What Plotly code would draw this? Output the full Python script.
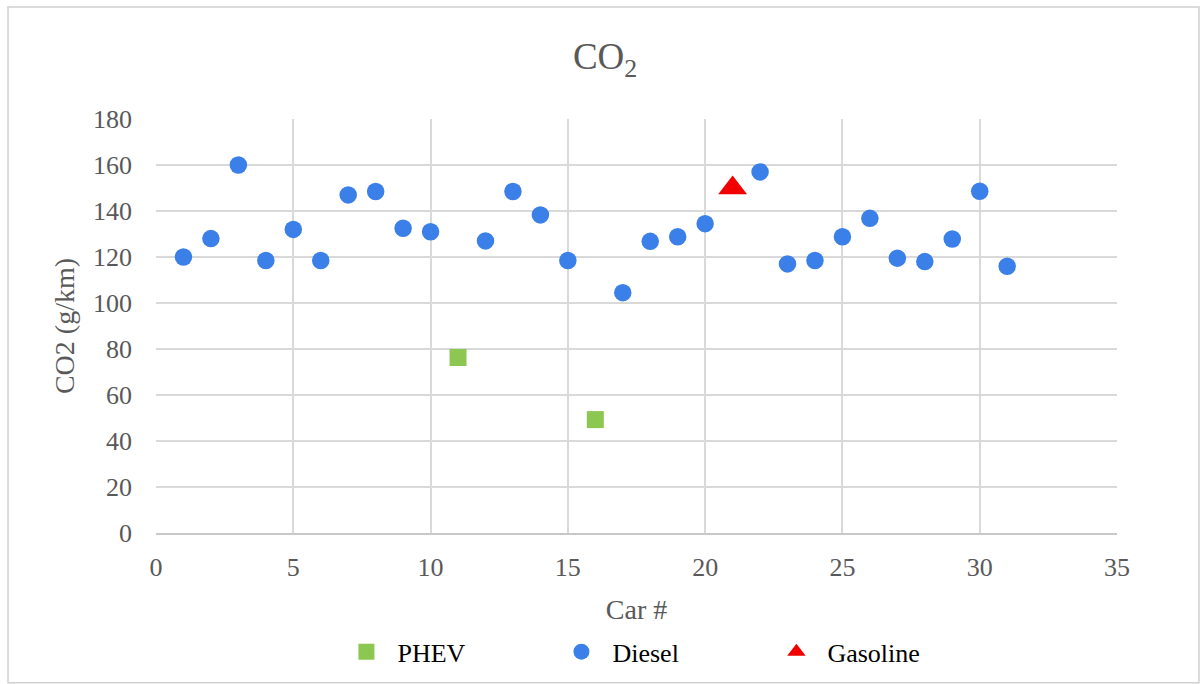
import plotly.graph_objects as go

# Data
diesel_car = [1, 2, 3, 4, 5, 6, 7, 8, 9, 10, 12, 13, 14, 15, 17, 18, 19, 20,
              22, 23, 24, 25, 26, 27, 28, 29, 30, 31]
diesel_co2 = [120, 128, 160, 118.5, 132, 118.5, 147, 148.5, 132.5, 131, 127, 148.5, 138.3, 118.5,
              104.5, 126.8, 128.8, 134.5, 157, 117, 118.5, 128.8, 136.8, 119.5, 118, 127.8, 148.6, 116]
phev_car = [11, 16]
phev_co2 = [76.3, 49.3]
gas_car = [21]
gas_co2 = [150]

FONT = "Liberation Serif"
GRAY = "#595959"

fig = go.Figure()
fig.add_trace(go.Scatter(x=phev_car, y=phev_co2, mode="markers", name="PHEV",
                         marker=dict(symbol="square", size=17, color="#8cc751")))
fig.add_trace(go.Scatter(x=diesel_car, y=diesel_co2, mode="markers", name="Diesel",
                         marker=dict(symbol="circle", size=17.5, color="#3b7fe8")))
fig.add_trace(go.Scatter(x=gas_car, y=gas_co2, mode="markers", name="Gasoline",
                         marker=dict(symbol="triangle-up", size=25, color="#f20000")))

fig.update_layout(
    width=1203, height=684,
    paper_bgcolor="white", plot_bgcolor="white",
    margin=dict(l=156, r=86, t=119, b=151, autoexpand=False),
    title=dict(text="CO<sub>2</sub>", x=0.503, xanchor="center", y=0.918, yanchor="middle",
               font=dict(family=FONT, size=37, color=GRAY)),
    font=dict(family=FONT, color=GRAY),
    showlegend=True,
    legend=dict(orientation="h", x=0.5223, xanchor="center", y=-0.287, yanchor="middle",
                font=dict(family=FONT, size=26, color="#000000"),
                itemwidth=52,
                entrywidth=148, entrywidthmode="pixels", bgcolor="rgba(0,0,0,0)"),
    shapes=[dict(type="rect", xref="paper", yref="paper", x0=-0.154, x1=1.0853,
                 y0=-0.362, y1=1.2705, line=dict(color="#d0d0d0", width=1.5), layer="below")],
)
fig.update_xaxes(range=[0, 35], dtick=5, tick0=0, showgrid=True, gridcolor="#d9d9d9", gridwidth=1.5,
                 zeroline=False, showline=True, linecolor="#c8c8c8", linewidth=1.5, mirror=False,
                 ticks="", ticklabelstandoff=10, tickfont=dict(family=FONT, size=26, color=GRAY),
                 title=dict(text="Car #", font=dict(family=FONT, size=28, color=GRAY), standoff=18))
fig.update_yaxes(range=[0, 180], dtick=20, tick0=0, showgrid=True, gridcolor="#d9d9d9", gridwidth=1.5,
                 zeroline=False, showline=False, ticks="", ticklabelstandoff=23,
                 tickfont=dict(family=FONT, size=26, color=GRAY),
                 title=dict(text="CO2 (g/km)", font=dict(family=FONT, size=28, color=GRAY), standoff=10))

fig.write_html("out.html")
